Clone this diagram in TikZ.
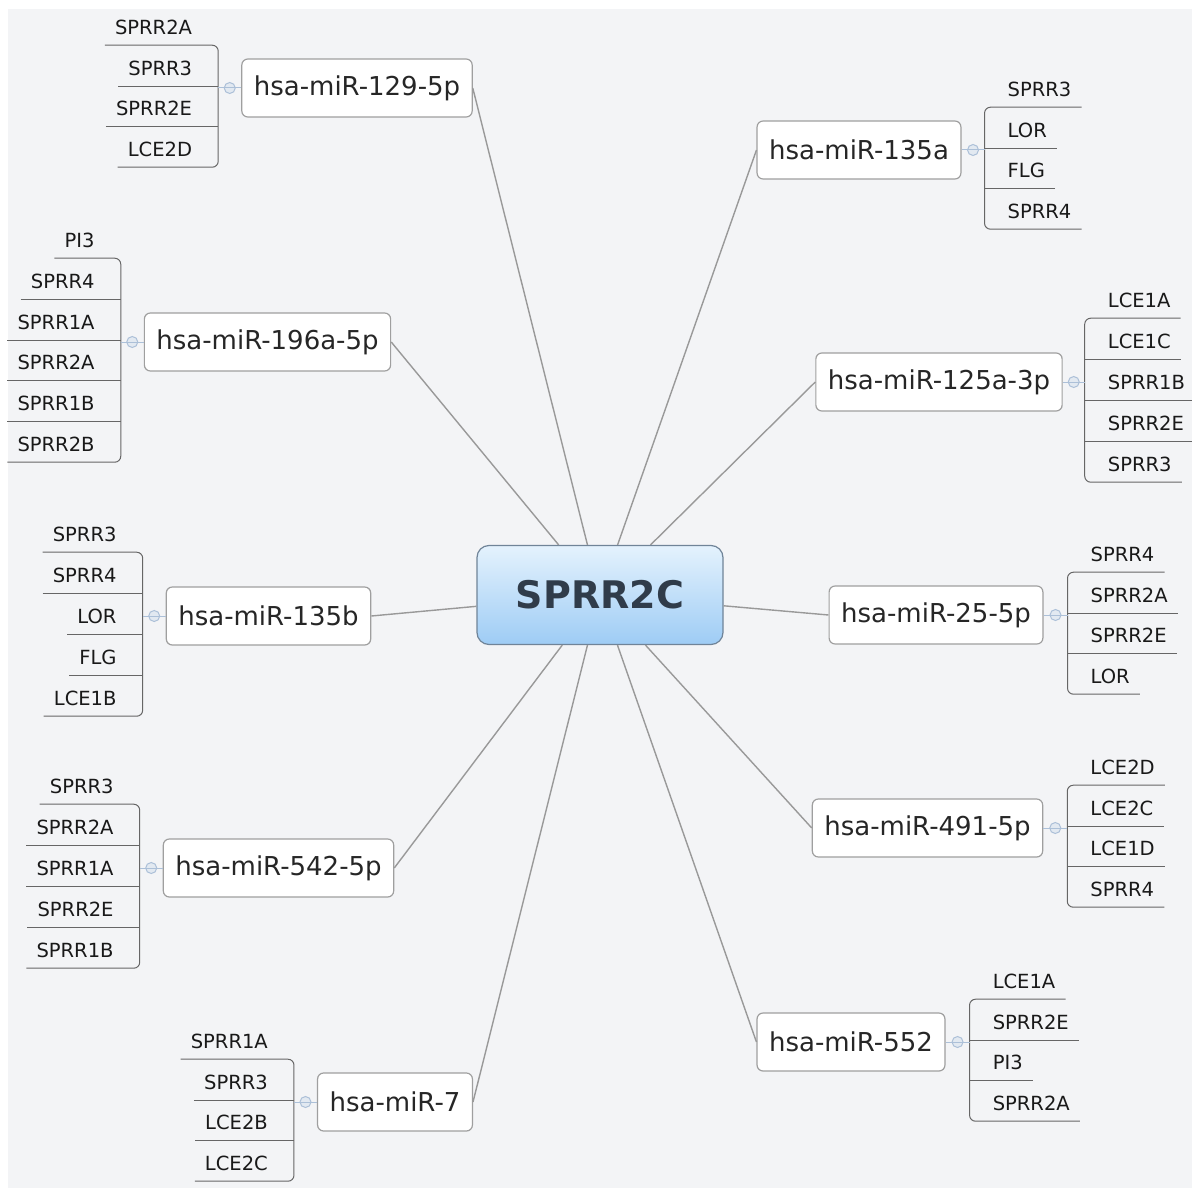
\documentclass[tikz,border=0pt]{standalone}
\usepackage{fontspec}
\setmainfont{DejaVu Sans}
\usetikzlibrary{calc}
\definecolor{bgGray}{RGB}{243,244,246}
\definecolor{rootTop}{RGB}{228,242,253}
\definecolor{rootBot}{RGB}{158,204,245}
\definecolor{rootLine}{RGB}{112,132,152}
\definecolor{rootText}{RGB}{48,60,74}
\definecolor{tieBlue}{RGB}{172,192,216}
\begin{document}
\begin{tikzpicture}[
    x=1pt,y=-1pt,
    root/.style={draw=rootLine,line width=1.2pt,rounded corners=12pt,top color=rootTop,bottom color=rootBot,
        minimum width=246pt,minimum height=99pt,font=\fontsize{38}{44}\selectfont\bfseries,text=rootText},
    mir/.style={draw=gray!75,fill=white,line width=1.2pt,rounded corners=6pt,minimum height=58pt,
        inner xsep=12pt,font=\fontsize{26}{30}\selectfont,text=black!85},
    leaf/.style={inner xsep=10pt,inner ysep=0pt,minimum height=36pt,font=\fontsize{19.5}{22}\selectfont,text=black!90},
    spoke/.style={draw=gray!80,line width=1.4pt},
    rail/.style={draw=black!60,line width=1pt,rounded corners=6pt},
    tie/.style={draw=tieBlue,line width=1pt},
    knob/.style={circle,draw=tieBlue,fill=tieBlue!35,line width=1pt,minimum size=11pt,inner sep=0pt}
]
\useasboundingbox (0,0) rectangle (1192,1188);
\fill[white] (0,0) rectangle (1192,1188);
\fill[bgGray] (8,9) rectangle (1192,1188);

\node[root] (root) at (600,595) {SPRR2C};

% left branches
\node[mir] (m129) at (357,88) {hsa-miR-129-5p};
\coordinate (b129) at ($(m129.west)+(-23,0)$);
\foreach \t [count=\i] in {SPRR2A,SPRR3,SPRR2E,LCE2D}
    \node[leaf,anchor=east] (m129l\i) at ($(b129)+(-16,{round((\i-2.5)*40.8)})$) {\t};
\draw[rail] (m129l1.south west) -- (m129l1.south -| b129) -- (m129l4.south -| b129) -- (m129l4.south west);
\foreach \i in {2,3} \draw[rail] (m129l\i.south west) -- (m129l\i.south -| b129);
\node[knob] (k129) at ($(m129.west)!0.5!(b129)$) {};
\draw[tie] (m129.west) -- (b129);

\node[mir] (m196) at (267.5,342) {hsa-miR-196a-5p};
\coordinate (b196) at ($(m196.west)+(-23,0)$);
\foreach \t [count=\i] in {PI3,SPRR4,SPRR1A,SPRR2A,SPRR1B,SPRR2B}
    \node[leaf,anchor=east] (m196l\i) at ($(b196)+(-16,{round((\i-3.5)*40.8)})$) {\t};
\draw[rail] (m196l1.south west) -- (m196l1.south -| b196) -- (m196l6.south -| b196) -- (m196l6.south west);
\foreach \i in {2,...,5} \draw[rail] (m196l\i.south west) -- (m196l\i.south -| b196);
\node[knob] (k196) at ($(m196.west)!0.5!(b196)$) {};
\draw[tie] (m196.west) -- (b196);

\node[mir] (m135b) at (268.5,616) {hsa-miR-135b};
\coordinate (b135b) at ($(m135b.west)+(-23,0)$);
\foreach \t [count=\i] in {SPRR3,SPRR4,LOR,FLG,LCE1B}
    \node[leaf,anchor=east] (m135bl\i) at ($(b135b)+(-16,{round((\i-3)*40.8)})$) {\t};
\draw[rail] (m135bl1.south west) -- (m135bl1.south -| b135b) -- (m135bl5.south -| b135b) -- (m135bl5.south west);
\foreach \i in {2,...,4} \draw[rail] (m135bl\i.south west) -- (m135bl\i.south -| b135b);
\node[knob] (k135b) at ($(m135b.west)!0.5!(b135b)$) {};
\draw[tie] (m135b.west) -- (b135b);

\node[mir] (m542) at (278.5,868) {hsa-miR-542-5p};
\coordinate (b542) at ($(m542.west)+(-23,0)$);
\foreach \t [count=\i] in {SPRR3,SPRR2A,SPRR1A,SPRR2E,SPRR1B}
    \node[leaf,anchor=east] (m542l\i) at ($(b542)+(-16,{round((\i-3)*40.8)})$) {\t};
\draw[rail] (m542l1.south west) -- (m542l1.south -| b542) -- (m542l5.south -| b542) -- (m542l5.south west);
\foreach \i in {2,...,4} \draw[rail] (m542l\i.south west) -- (m542l\i.south -| b542);
\node[knob] (k542) at ($(m542.west)!0.5!(b542)$) {};
\draw[tie] (m542.west) -- (b542);

\node[mir] (m7) at (395,1102) {hsa-miR-7};
\coordinate (b7) at ($(m7.west)+(-23,0)$);
\foreach \t [count=\i] in {SPRR1A,SPRR3,LCE2B,LCE2C}
    \node[leaf,anchor=east] (m7l\i) at ($(b7)+(-16,{round((\i-2.5)*40.8)})$) {\t};
\draw[rail] (m7l1.south west) -- (m7l1.south -| b7) -- (m7l4.south -| b7) -- (m7l4.south west);
\foreach \i in {2,3} \draw[rail] (m7l\i.south west) -- (m7l\i.south -| b7);
\node[knob] (k7) at ($(m7.west)!0.5!(b7)$) {};
\draw[tie] (m7.west) -- (b7);

% right branches
\node[mir] (m135a) at (859,150) {hsa-miR-135a};
\coordinate (b135a) at ($(m135a.east)+(23,0)$);
\foreach \t [count=\i] in {SPRR3,LOR,FLG,SPRR4}
    \node[leaf,anchor=west] (m135al\i) at ($(b135a)+(13,{round((\i-2.5)*40.8)})$) {\t};
\draw[rail] (m135al1.south east) -- (m135al1.south -| b135a) -- (m135al4.south -| b135a) -- (m135al4.south east);
\foreach \i in {2,3} \draw[rail] (m135al\i.south east) -- (m135al\i.south -| b135a);
\node[knob] (k135a) at ($(m135a.east)!0.5!(b135a)$) {};
\draw[tie] (m135a.east) -- (b135a);

\node[mir] (m125) at (939,382) {hsa-miR-125a-3p};
\coordinate (b125) at ($(m125.east)+(22,0)$);
\foreach \t [count=\i] in {LCE1A,LCE1C,SPRR1B,SPRR2E,SPRR3}
    \node[leaf,anchor=west] (m125l\i) at ($(b125)+(13,{round((\i-3)*40.8)})$) {\t};
\draw[rail] (m125l1.south east) -- (m125l1.south -| b125) -- (m125l5.south -| b125) -- (m125l5.south east);
\foreach \i in {2,...,4} \draw[rail] (m125l\i.south east) -- (m125l\i.south -| b125);
\node[knob] (k125) at ($(m125.east)!0.5!(b125)$) {};
\draw[tie] (m125.east) -- (b125);

\node[mir] (m25) at (936,615) {hsa-miR-25-5p};
\coordinate (b25) at ($(m25.east)+(24,0)$);
\foreach \t [count=\i] in {SPRR4,SPRR2A,SPRR2E,LOR}
    \node[leaf,anchor=west] (m25l\i) at ($(b25)+(13,{round((\i-2.5)*40.8)})$) {\t};
\draw[rail] (m25l1.south east) -- (m25l1.south -| b25) -- (m25l4.south -| b25) -- (m25l4.south east);
\foreach \i in {2,3} \draw[rail] (m25l\i.south east) -- (m25l\i.south -| b25);
\node[knob] (k25) at ($(m25.east)!0.5!(b25)$) {};
\draw[tie] (m25.east) -- (b25);

\node[mir] (m491) at (927.5,828) {hsa-miR-491-5p};
\coordinate (b491) at ($(m491.east)+(24,0)$);
\foreach \t [count=\i] in {LCE2D,LCE2C,LCE1D,SPRR4}
    \node[leaf,anchor=west] (m491l\i) at ($(b491)+(13,{round((\i-2.5)*40.8)})$) {\t};
\draw[rail] (m491l1.south east) -- (m491l1.south -| b491) -- (m491l4.south -| b491) -- (m491l4.south east);
\foreach \i in {2,3} \draw[rail] (m491l\i.south east) -- (m491l\i.south -| b491);
\node[knob] (k491) at ($(m491.east)!0.5!(b491)$) {};
\draw[tie] (m491.east) -- (b491);

\node[mir] (m552) at (851,1042) {hsa-miR-552};
\coordinate (b552) at ($(m552.east)+(24,0)$);
\foreach \t [count=\i] in {LCE1A,SPRR2E,PI3,SPRR2A}
    \node[leaf,anchor=west] (m552l\i) at ($(b552)+(13,{round((\i-2.5)*40.8)})$) {\t};
\draw[rail] (m552l1.south east) -- (m552l1.south -| b552) -- (m552l4.south -| b552) -- (m552l4.south east);
\foreach \i in {2,3} \draw[rail] (m552l\i.south east) -- (m552l\i.south -| b552);
\node[knob] (k552) at ($(m552.east)!0.5!(b552)$) {};
\draw[tie] (m552.east) -- (b552);

% spokes from the centre
\foreach \m in {m129,m196,m135b,m542,m7}
    \draw[spoke] (root) -- (\m.east);
\foreach \m in {m135a,m125,m25,m491,m552}
    \draw[spoke] (root) -- (\m.west);
\end{tikzpicture}
\end{document}
